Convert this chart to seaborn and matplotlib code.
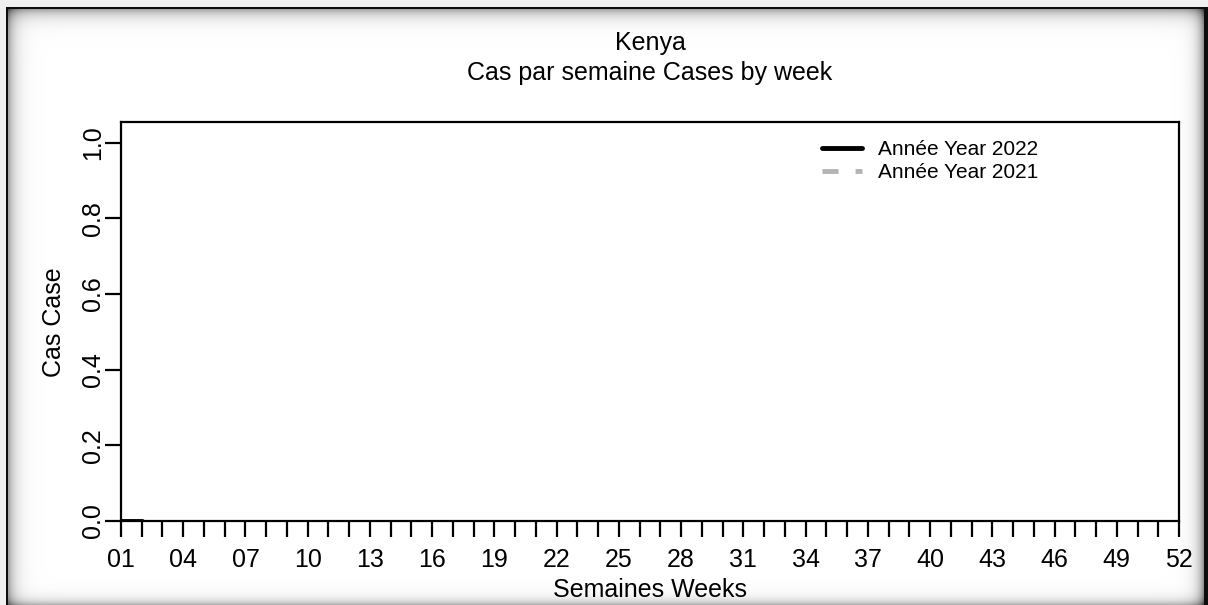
import numpy as np
import pandas as pd
import seaborn as sns
import matplotlib.pyplot as plt
from matplotlib.lines import Line2D

# données
country = "Kenya"
weeks_2022 = [1, 2]
cases_2022 = [0, 0]
weeks_2021 = []
cases_2021 = []
all_weeks = list(range(1, 53))
label_weeks = list(range(1, 53, 3))
y_ticks = [0.0, 0.2, 0.4, 0.6, 0.8, 1.0]

sns.set_theme(style="white")
plt.rcParams["font.family"] = ["Liberation Sans", "DejaVu Sans"]
plt.rcParams["text.color"] = "black"

W, H = 1208, 605
fig = plt.figure(figsize=(W / 100, H / 100), dpi=100)
fig.patch.set_facecolor("white")

# cadre de fenêtre (ombre)
bg = fig.add_axes([0, 0, 1, 1], zorder=0)
yy, xx = np.mgrid[0:H, 0:W].astype(float)
img = np.ones((H, W))
shade = (0.35 * np.exp(-(yy - 9) / 7.0) * (yy >= 9)
         + 0.35 * np.exp(-(xx - 8) / 7.0) * (xx >= 8)
         + 0.5 * np.exp(-(1204 - xx) / 6.0) * (xx <= 1204)
         + 0.3 * np.exp(-(604 - yy) / 5.0))
img = np.clip(img - shade, 0, 1)
img[(yy < 7) | (xx < 6)] = 0.94
img[((yy >= 7) & (yy < 9) & (xx >= 6)) | ((xx >= 6) & (xx < 8) & (yy >= 7))] = 0.05
img[(xx >= 1204) & (yy >= 7)] = 0.05
img8 = np.round(img * 255).astype(np.uint8)
bg.imshow(np.dstack([img8] * 3), extent=(0, W, H, 0), aspect="auto",
          interpolation="nearest")
bg.axis("off")

ax = fig.add_axes([121 / W, 1 - 521 / H, (1179 - 121) / W, (521 - 122) / H], zorder=1)
ax.set_facecolor("none")

df22 = pd.DataFrame({"week": weeks_2022, "cases": cases_2022})
sns.lineplot(data=df22, x="week", y="cases", ax=ax, color="black", linewidth=3.5)
if len(weeks_2021):
    df21 = pd.DataFrame({"week": weeks_2021, "cases": cases_2021})
    sns.lineplot(data=df21, x="week", y="cases", ax=ax, color="#b4b4b4",
                 linewidth=3.5, dashes=(3.3, 3.5))

ax.set_xlim(1, 52)
ax.set_ylim(0, 1.055)

ax.set_xticks(label_weeks)
ax.set_xticklabels([f"{w:02d}" for w in label_weeks])
ax.set_xticks(all_weeks, minor=True)
ax.set_yticks(y_ticks)
ax.set_yticklabels([f"{v:.1f}" for v in y_ticks], rotation=90, va="center")

for s in ax.spines.values():
    s.set_color("black")
    s.set_linewidth(1.6)
ax.tick_params(axis="both", which="both", direction="out", length=11.5,
               width=1.6, color="black", labelsize=18, labelcolor="black")
ax.tick_params(axis="x", which="both", bottom=True, pad=8)
ax.tick_params(axis="y", left=True, pad=0)

ax.set_xlabel("")
ax.set_ylabel("")
fig.text(650 / W, 1 - 590 / H, "Semaines Weeks", ha="center", va="center", fontsize=18)
fig.text(54 / W, 1 - 322 / H, "Cas Case", ha="center", va="center", rotation=90, fontsize=18)
fig.text(650 / W, 1 - 43 / H, country, ha="center", va="center", fontsize=18)
fig.text(650 / W, 1 - 73 / H, "Cas par semaine Cases by week", ha="center", va="center",
         fontsize=18)

handles = [Line2D([], [], color="black", linewidth=3.5, solid_capstyle="round"),
           Line2D([], [], color="#b4b4b4", linewidth=3.5, dashes=(3.3, 3.5))]
ax.legend(handles, ["Année Year 2022", "Année Year 2021"], loc="upper left",
          bbox_to_anchor=(822 / W, 1 - 140 / H), bbox_transform=fig.transFigure,
          frameon=False, fontsize=15, borderpad=0, borderaxespad=0,
          handlelength=1.92, handletextpad=0.75, labelspacing=0.2)

fig.savefig("out.png", dpi=100)
